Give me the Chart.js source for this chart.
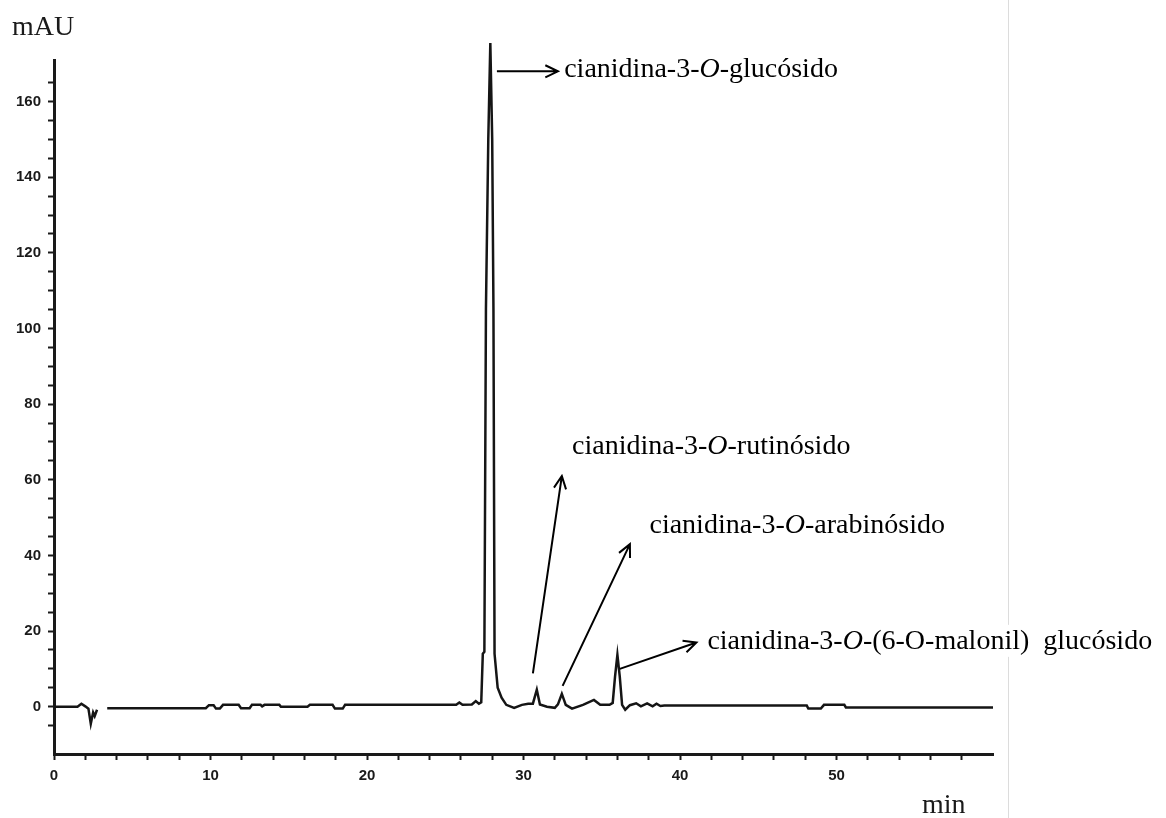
<!DOCTYPE html>
<html>
<head>
<meta charset="utf-8">
<script src="https://cdn.jsdelivr.net/npm/chart.js@4.4.1/dist/chart.umd.min.js"></script>
<style>
  html, body { margin: 0; padding: 0; background: #fff; }
  #wrap { position: relative; width: 1166px; height: 818px; }
</style>
</head>
<body>
<div id="wrap">
  <canvas id="chromChart" width="1166" height="818"></canvas>
</div>
<script>
// retention time (min) and detector signal (mAU); null = gap in the trace
const timeMin = [
  0, 1.5, 1.75, 2.0, 2.2, 2.35, 2.5, 2.6, 2.75, 2.9,
  3.4, 9.7, 9.9, 10.2, 10.35, 10.6, 10.8, 11.8, 11.95, 12.5,
  12.65, 13.2, 13.3, 13.45, 14.4, 14.5, 16.2, 16.35, 17.8, 17.95,
  18.45, 18.6, 25.7, 25.9, 26.1, 26.7, 26.95, 27.15, 27.3, 27.4,
  27.5, 27.6, 27.75, 27.88, 28.0, 28.08, 28.15, 28.35, 28.6, 28.9,
  29.4, 29.9, 30.3, 30.6, 30.85, 31.05, 31.5, 32.0, 32.2, 32.45,
  32.7, 33.1, 33.8, 34.5, 34.9, 35.5, 35.7, 35.85, 36.0, 36.15,
  36.3, 36.5, 36.8, 37.2, 37.5, 37.9, 38.25, 38.5, 38.75, 39.0,
  48.1, 48.2, 49.0, 49.2, 50.5, 50.6, 60
];
const absorbanceMAU = [
  0, 0, 0.8, 0.1, -0.5, -4.5, -1.5, -2.5, -0.8, null,
  -0.4, -0.4, 0.4, 0.4, -0.5, -0.5, 0.5, 0.5, -0.4, -0.4,
  0.5, 0.5, 0.1, 0.5, 0.5, 0, 0, 0.5, 0.5, -0.5,
  -0.5, 0.5, 0.5, 1.1, 0.5, 0.6, 1.5, 0.8, 1.2, 14,
  14.5, 105, 150, 175.5, 150, 105, 14, 5, 2.4, 0.5,
  -0.3, 0.5, 0.8, 0.8, 4.5, 0.6, 0, -0.3, 0.6, 3.4,
  0.5, -0.5, 0.5, 1.8, 0.5, 0.5, 1.0, 8, 13.7, 8,
  0.5, -0.8, 0.4, 0.9, 0.1, 0.9, 0.1, 0.8, 0.2, 0.3,
  0.3, -0.5, -0.5, 0.5, 0.5, -0.2, -0.2
];
const yTickLabels = [0, 20, 40, 60, 80, 100, 120, 140, 160];
const xTickLabels = [0, 10, 20, 30, 40, 50];

// peak names: [text, italic]
const peakNames = [
  [['cianidina-3-', false], ['O', true], ['-glucósido', false]],
  [['cianidina-3-', false], ['O', true], ['-rutinósido', false]],
  [['cianidina-3-', false], ['O', true], ['-arabinósido', false]],
  [['cianidina-3-', false], ['O', true], ['-(6-O-malonil)  glucósido', false]]
];
// arrow start, arrow tip and label anchor, in data units (min, mAU)
const arrows = [
  { from: [28.3, 168], to: [32.2, 168], label: [32.6, 166.4] },
  { from: [30.6, 8.8], to: [32.45, 61], label: [33.1, 66.8] },
  { from: [32.5, 5.5], to: [36.8, 43], label: [38.05, 46] },
  { from: [36.15, 10], to: [41.05, 17], label: [41.75, 15.3] }
];

const serif = '"Liberation Serif", "Times New Roman", serif';

// thin grey frame edge on the right, drawn under everything
const pageEdge = {
  id: 'pageEdge',
  beforeDraw(chart) {
    const ctx = chart.ctx;
    ctx.save();
    ctx.fillStyle = '#dcdcdc';
    ctx.fillRect(1008, 0, 1, chart.height);
    ctx.restore();
  }
};

const peakLabels = {
  id: 'peakLabels',
  afterDatasetsDraw(chart) {
    const ctx = chart.ctx;
    const xs = chart.scales.x, ys = chart.scales.y;
    const area = chart.chartArea;
    ctx.save();
    ctx.strokeStyle = '#000';
    ctx.lineWidth = 2;
    arrows.forEach((a, i) => {
      const x1 = xs.getPixelForValue(a.from[0]), y1 = ys.getPixelForValue(a.from[1]);
      const x2 = xs.getPixelForValue(a.to[0]), y2 = ys.getPixelForValue(a.to[1]);
      const ang = Math.atan2(y2 - y1, x2 - x1);
      ctx.beginPath();
      ctx.moveTo(x1, y1);
      ctx.lineTo(x2, y2);
      ctx.moveTo(x2 - 14 * Math.cos(ang - 0.45), y2 - 14 * Math.sin(ang - 0.45));
      ctx.lineTo(x2, y2);
      ctx.lineTo(x2 - 14 * Math.cos(ang + 0.45), y2 - 14 * Math.sin(ang + 0.45));
      ctx.stroke();

      let tx = xs.getPixelForValue(a.label[0]);
      const ty = ys.getPixelForValue(a.label[1]);
      ctx.textBaseline = 'alphabetic';
      ctx.textAlign = 'left';
      // white box behind the label, as in the source figure
      let w = 0;
      peakNames[i].forEach(([txt, it]) => {
        ctx.font = (it ? 'italic ' : '') + '28px ' + serif;
        w += ctx.measureText(txt).width;
      });
      ctx.fillStyle = '#fff';
      ctx.fillRect(tx - 2, ty - 24, w + 4, 32);
      ctx.fillStyle = '#000';
      peakNames[i].forEach(([txt, it]) => {
        ctx.font = (it ? 'italic ' : '') + '28px ' + serif;
        ctx.fillText(txt, tx, ty);
        tx += ctx.measureText(txt).width;
      });
    });
    // axis titles
    ctx.fillStyle = '#1a1a1a';
    ctx.font = '28px ' + serif;
    ctx.fillText('mAU', area.left - 42, area.top - 25);
    ctx.fillText('min', area.right - 71, area.bottom + 59);
    ctx.restore();
  }
};

const tickFont = { family: '"Liberation Sans", Arial, sans-serif', size: 15, weight: 'bold' };

new Chart(document.getElementById('chromChart'), {
  type: 'line',
  data: {
    datasets: [{
      data: timeMin.map((t, i) => ({ x: t, y: absorbanceMAU[i] })),
      borderColor: '#151515',
      borderWidth: 2.5,
      pointRadius: 0,
      tension: 0,
      spanGaps: false,
      clip: false
    }]
  },
  options: {
    responsive: false,
    animation: false,
    layout: { padding: { left: 0, top: 60, right: 173, bottom: 0 } },
    plugins: { legend: { display: false }, tooltip: { enabled: false } },
    scales: {
      x: {
        type: 'linear',
        min: 0,
        max: 60,
        afterFit: (s) => { s.height = 64; },
        afterBuildTicks: (s) => { s.ticks = s.ticks.filter(t => t.value % 2 === 0 && t.value <= 58); },
        ticks: {
          stepSize: 2,
          autoSkip: false,
          maxRotation: 0,
          padding: 7,
          color: '#1a1a1a',
          font: tickFont,
          callback: (v) => xTickLabels.includes(v) ? String(v) : ''
        },
        grid: { drawOnChartArea: false, tickLength: 6, tickColor: '#1a1a1a', tickWidth: 2 },
        border: { display: true, color: '#1a1a1a', width: 3 }
      },
      y: {
        min: -12.5,
        max: 171,
        afterFit: (s) => { s.width = 54; },
        afterBuildTicks: (s) => { s.ticks = s.ticks.filter(t => t.value % 5 === 0); },
        ticks: {
          stepSize: 5,
          autoSkip: false,
          padding: 7,
          color: '#1a1a1a',
          font: tickFont,
          callback: (v) => yTickLabels.includes(v) ? String(v) : ''
        },
        grid: { drawOnChartArea: false, tickLength: 6, tickColor: '#1a1a1a', tickWidth: 2 },
        border: { display: true, color: '#1a1a1a', width: 3 }
      }
    }
  },
  plugins: [pageEdge, peakLabels]
});
</script>
</body>
</html>
